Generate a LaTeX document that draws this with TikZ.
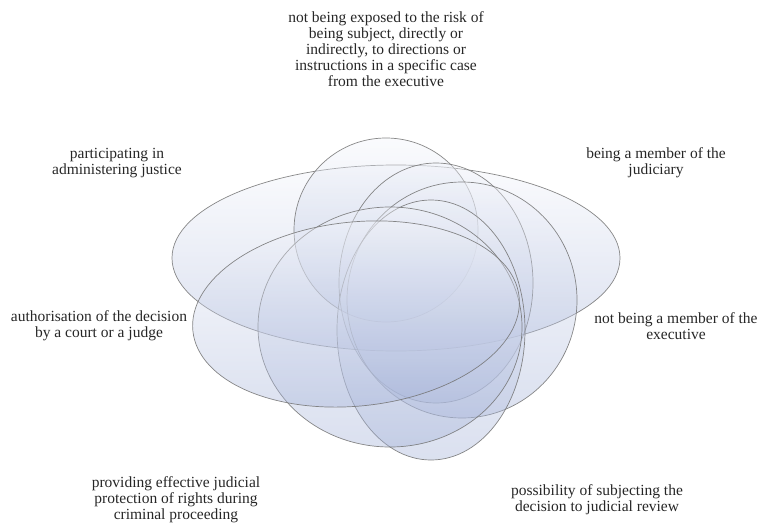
\documentclass[tikz,border=0pt]{standalone}
\usepackage{fontspec}
\setmainfont{Liberation Serif}
\begin{document}
\begin{tikzpicture}[x=1pt,y=-1pt,
  petal/.style={draw=black!55, line width=0.7pt,
    top color=petaltop, bottom color=petalbottom, fill opacity=0.38, draw opacity=0.85},
  lbl/.style={align=center, font=\fontsize{15.5}{16}\selectfont, text=black!85, inner sep=0pt}]
\definecolor{petaltop}{HTML}{F2F4FA}
\definecolor{petalbottom}{HTML}{9FAED6}
\useasboundingbox (0,0) rectangle (759,524);
% overlapping ellipses, one per criterion
\path[petal] (396,258) ellipse [x radius=224, y radius=93];
\path[petal] (386,230) circle [radius=92];
\path[petal] (436,283) ellipse [x radius=97, y radius=120];
\path[petal] (462,300) ellipse [x radius=115, y radius=118];
\path[petal] (431,330) ellipse [x radius=94, y radius=130];
\path[petal] (390,327) ellipse [x radius=132, y radius=120];
\path[petal] (356,314) ellipse [x radius=164, y radius=92, rotate=6];
% labels
\node[lbl] (top) at (386,49) {not being exposed to the risk of\\being subject, directly or\\indirectly, to directions or\\instructions in a specific case\\from the executive};
\node[lbl] (ur) at (656,163) {being a member of the\\judiciary};
\node[lbl] (r) at (676,326) {not being a member of the\\executive};
\node[lbl] (lr) at (597,500) {possibility of subjecting the\\decision to judicial review};
\node[lbl] (ll) at (176,500) {providing effective judicial\\protection of rights during\\criminal proceeding};
\node[lbl] (l) at (99,326) {authorisation of the decision\\by a court or a judge};
\node[lbl] (ul) at (117,163) {participating in\\administering justice};
\end{tikzpicture}
\end{document}
